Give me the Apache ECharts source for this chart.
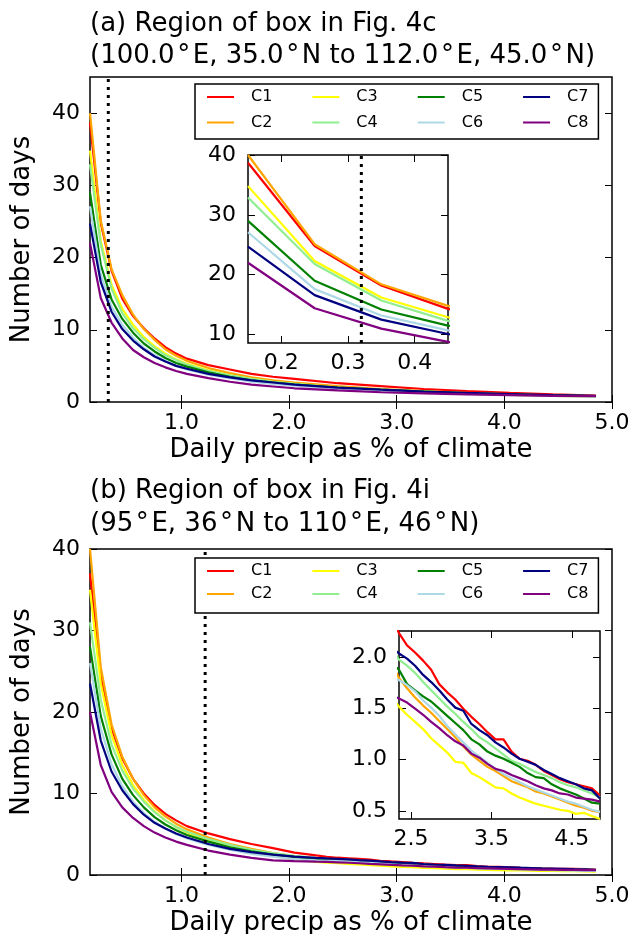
<!DOCTYPE html>
<html>
<head>
<meta charset="UTF-8">
<title>Number of days vs daily precip</title>
<script src="https://cdn.jsdelivr.net/npm/echarts@6/dist/echarts.min.js"></script>
<style>
body { margin: 0; background: #fff; }
.panel { width: 631px; height: 467px; }
</style>
</head>
<body>
<div id="chart-a" class="panel"></div>
<div id="chart-b" class="panel"></div>
<script>
var names = ['C1', 'C2', 'C3', 'C4', 'C5', 'C6', 'C7', 'C8'];
var colors = ['#ff0000', '#ffa500', '#ffff00', '#90ee90', '#008000', '#add8e6', '#000080', '#800080'];

// panel (a) data
var xA = [0.15, 0.25, 0.35, 0.45, 0.55, 0.65, 0.75, 0.85, 0.95, 1.05, 1.25, 1.45, 1.65, 1.85, 2.05, 2.45, 2.85, 3.25, 3.65, 4.05, 4.45, 4.85];
var a_C1 = [38.7, 24.8, 18.2, 14.3, 11.9, 10.2, 8.8, 7.6, 6.7, 6.0, 5.1, 4.5, 3.9, 3.5, 3.2, 2.6, 2.2, 1.8, 1.5, 1.25, 1.05, 0.9];
var a_C2 = [40.0, 25.1, 18.4, 14.8, 12.1, 10.1, 8.6, 7.3, 6.4, 5.7, 4.7, 4.0, 3.4, 3.0, 2.7, 2.2, 1.8, 1.5, 1.25, 1.05, 0.9, 0.8];
var a_C3 = [34.8, 22.3, 16.2, 12.9, 10.7, 9.0, 7.7, 6.7, 5.9, 5.3, 4.4, 3.7, 3.2, 2.8, 2.5, 2.0, 1.7, 1.4, 1.15, 1.0, 0.85, 0.75];
var a_C4 = [32.9, 21.8, 15.7, 12.3, 10.2, 8.7, 7.5, 6.5, 5.8, 5.2, 4.3, 3.7, 3.2, 2.8, 2.5, 2.0, 1.7, 1.45, 1.2, 1.05, 0.9, 0.8];
var a_C5 = [29.0, 19.0, 14.2, 11.5, 9.6, 8.1, 7.0, 6.1, 5.4, 4.9, 4.1, 3.5, 3.0, 2.7, 2.4, 2.0, 1.7, 1.45, 1.2, 1.05, 0.9, 0.8];
var a_C6 = [27.1, 17.6, 13.2, 10.7, 8.9, 7.5, 6.5, 5.7, 5.0, 4.5, 3.8, 3.3, 2.8, 2.5, 2.25, 1.85, 1.55, 1.35, 1.15, 1.0, 0.85, 0.75];
var a_C7 = [24.7, 16.6, 12.5, 10.1, 8.5, 7.3, 6.3, 5.6, 5.0, 4.6, 3.9, 3.4, 3.0, 2.7, 2.4, 2.0, 1.7, 1.45, 1.25, 1.1, 0.95, 0.85];
var a_C8 = [22.0, 14.4, 11.0, 8.8, 7.2, 6.2, 5.4, 4.8, 4.3, 3.9, 3.3, 2.8, 2.4, 2.15, 1.9, 1.6, 1.35, 1.2, 1.05, 0.95, 0.85, 0.8];
var cutA = 0.32;

// panel (b) data
var xB = [0.15, 0.25, 0.35, 0.45, 0.55, 0.65, 0.75, 0.85, 0.95, 1.05, 1.25, 1.45, 1.65, 1.85, 2.05, 2.25,
  2.35, 2.45, 2.55, 2.65, 2.75, 2.85, 2.95, 3.05, 3.15, 3.25, 3.35, 3.45, 3.55, 3.65, 3.75, 3.85, 3.95,
  4.05, 4.15, 4.25, 4.35, 4.45, 4.55, 4.65, 4.75, 4.85];
var b_C1 = [37.0, 24.5, 18.0, 14.3, 11.8, 10.0, 8.6, 7.5, 6.7, 6.0, 5.1, 4.4, 3.8, 3.3, 2.75, 2.4,
  2.24, 2.12, 2.05, 1.97, 1.88, 1.74, 1.66, 1.59, 1.50, 1.42, 1.35, 1.27, 1.20, 1.20, 1.08, 1.01, 0.99,
  0.95, 0.89, 0.85, 0.81, 0.78, 0.76, 0.74, 0.72, 0.65];
var b_C2 = [40.0, 25.5, 18.5, 14.5, 11.8, 9.8, 8.3, 7.2, 6.3, 5.6, 4.6, 3.8, 3.2, 2.7, 2.3, 1.95,
  1.80, 1.70, 1.61, 1.53, 1.46, 1.38, 1.30, 1.22, 1.13, 1.05, 0.99, 0.93, 0.89, 0.84, 0.79, 0.76, 0.73,
  0.69, 0.67, 0.64, 0.61, 0.58, 0.55, 0.53, 0.50, 0.49];
var b_C3 = [35.0, 23.5, 17.2, 13.5, 11.0, 9.2, 7.8, 6.7, 5.9, 5.2, 4.2, 3.4, 2.8, 2.35, 1.9, 1.62,
  1.52, 1.44, 1.37, 1.30, 1.21, 1.14, 1.07, 0.98, 0.97, 0.87, 0.83, 0.78, 0.73, 0.72, 0.67, 0.63, 0.60,
  0.57, 0.55, 0.53, 0.51, 0.50, 0.47, 0.48, 0.45, 0.42];
var b_C4 = [31.0, 21.5, 16.0, 12.8, 10.6, 9.0, 7.7, 6.7, 5.9, 5.3, 4.4, 3.7, 3.1, 2.7, 2.35, 2.1,
  1.98, 1.92, 1.85, 1.76, 1.68, 1.60, 1.52, 1.45, 1.37, 1.30, 1.22, 1.17, 1.11, 1.05, 0.99, 0.96, 0.92,
  0.88, 0.85, 0.82, 0.78, 0.75, 0.73, 0.70, 0.67, 0.63];
var b_C5 = [28.0, 19.5, 14.8, 11.8, 9.8, 8.3, 7.1, 6.2, 5.5, 4.9, 4.1, 3.4, 2.9, 2.5, 2.2, 1.95,
  1.88, 1.74, 1.68, 1.62, 1.57, 1.50, 1.43, 1.36, 1.29, 1.20, 1.15, 1.08, 1.04, 1.01, 0.97, 0.93, 0.87,
  0.83, 0.82, 0.76, 0.72, 0.69, 0.66, 0.62, 0.58, 0.57];
var b_C6 = [26.0, 18.0, 13.6, 10.9, 9.0, 7.6, 6.5, 5.7, 5.0, 4.5, 3.7, 3.1, 2.6, 2.25, 1.95, 1.8,
  1.78, 1.73, 1.67, 1.58, 1.51, 1.43, 1.33, 1.25, 1.17, 1.09, 1.03, 0.97, 0.91, 0.86, 0.82, 0.78, 0.74,
  0.71, 0.68, 0.65, 0.62, 0.59, 0.57, 0.54, 0.51, 0.49];
var b_C7 = [23.5, 16.5, 12.7, 10.4, 8.7, 7.4, 6.4, 5.7, 5.1, 4.6, 3.8, 3.2, 2.8, 2.5, 2.25, 2.1,
  2.04, 1.99, 1.92, 1.83, 1.76, 1.68, 1.59, 1.51, 1.48, 1.35, 1.29, 1.24, 1.17, 1.12, 1.06, 1.01, 0.98,
  0.95, 0.90, 0.86, 0.82, 0.79, 0.76, 0.72, 0.70, 0.62];
var b_C8 = [20.0, 13.5, 10.2, 8.3, 7.0, 6.0, 5.2, 4.6, 4.1, 3.7, 3.0, 2.5, 2.1, 1.8, 1.7, 1.63,
  1.60, 1.56, 1.50, 1.44, 1.37, 1.31, 1.24, 1.18, 1.14, 1.06, 1.02, 0.96, 0.91, 0.89, 0.85, 0.82, 0.79,
  0.75, 0.72, 0.70, 0.67, 0.66, 0.63, 0.62, 0.61, 0.59];
var cutB = 1.22;

var FONT = 'DejaVu Sans';
var DEG = '\u200a°\u200a';

function pairs(xs, ys) {
  return xs.map(function (x, i) { return [x, ys[i]]; });
}

// one axis; mirrored axes only carry ticks
function axis(grid, pos, min, max, ticks, withLabels, digits, gap) {
  return {
    type: 'value', gridIndex: grid, position: pos, min: min, max: max,
    splitLine: { show: false },
    axisLine: { show: false },
    axisTick: { show: true, inside: true, length: 7, customValues: ticks, lineStyle: { color: '#000', width: 1 } },
    axisLabel: {
      show: withLabels, customValues: ticks, color: '#000', fontSize: 22, fontFamily: FONT, margin: gap,
      formatter: function (v) { return v.toFixed(digits); }
    }
  };
}

function buildOption(p) {
  var series = [];
  for (var i = 0; i < names.length; i++) {
    var d = pairs(p.xs, p.ys[i]);
    series.push({ name: names[i], type: 'line', xAxisIndex: 0, yAxisIndex: 0, data: d, symbol: 'none',
      color: colors[i], lineStyle: { width: 2.2, color: colors[i] } });
    series.push({ name: names[i], type: 'line', xAxisIndex: 2, yAxisIndex: 2, data: d, symbol: 'none',
      color: colors[i], lineStyle: { width: 2.2, color: colors[i] } });
  }
  var dotStyle = { color: '#000', width: 3, type: [3, 5] };
  series.push({ type: 'line', xAxisIndex: 0, yAxisIndex: 0, symbol: 'none', z: 3,
    data: [[p.cut, p.main.y[0]], [p.cut, p.main.y[1]]], lineStyle: dotStyle });
  if (p.cut > p.inset.x[0] && p.cut < p.inset.x[1]) {
    series.push({ type: 'line', xAxisIndex: 2, yAxisIndex: 2, symbol: 'none', z: 3,
      data: [[p.cut, p.inset.y[0]], [p.cut, p.inset.y[1]]], lineStyle: dotStyle });
  }

  var nameStyle = { color: '#000', fontSize: 26, fontFamily: FONT };
  var xMain = axis(0, 'bottom', p.main.x[0], p.main.x[1], p.main.xt, true, 1, 10);
  xMain.name = 'Daily precip as % of climate';
  xMain.nameLocation = 'middle';
  xMain.nameGap = 35;
  xMain.nameMoveOverlap = false;
  xMain.nameTextStyle = nameStyle;
  var yMain = axis(0, 'left', p.main.y[0], p.main.y[1], p.main.yt, true, 0, 10);
  yMain.name = 'Number of days';
  yMain.nameLocation = 'middle';
  yMain.nameGap = 55;
  yMain.nameMoveOverlap = false;
  yMain.nameTextStyle = nameStyle;

  var titleStyle = { fontSize: 26, fontWeight: 'normal', fontFamily: FONT, color: '#000' };
  var legendText = { fontSize: 16, fontFamily: FONT, color: '#000', padding: [0, 0, 0, 12] };
  var lineIcon = 'path://M0,0H27V2H0Z';
  return {
    animation: false,
    title: [
      { text: p.title[0], left: 90, top: p.titleTop[0], padding: 0, textStyle: titleStyle },
      { text: p.title[1], left: 90, top: p.titleTop[1], padding: 0, textStyle: titleStyle }
    ],
    legend: [
      { data: ['C1', 'C3', 'C5', 'C7'], left: 195, top: p.legendTop[0], icon: lineIcon,
        itemWidth: 27, itemHeight: 14, itemGap: 40,
        padding: [5, 10, p.legendPadBottom, 12], backgroundColor: '#fff', borderColor: '#000', borderWidth: 1.5,
        selectedMode: false, textStyle: legendText },
      { data: ['C2', 'C4', 'C6', 'C8'], left: 195, top: p.legendTop[1], icon: lineIcon,
        itemWidth: 27, itemHeight: 14, itemGap: 40,
        padding: [0, 10, 0, 12], z: 5, selectedMode: false, textStyle: legendText }
    ],
    grid: [
      { left: p.main.box[0], top: p.main.box[1], width: p.main.box[2], height: p.main.box[3],
        show: true, borderColor: '#000', borderWidth: 1.5, outerBoundsMode: 'none' },
      { left: p.inset.box[0], top: p.inset.box[1], width: p.inset.box[2], height: p.inset.box[3],
        show: true, borderColor: '#000', borderWidth: 1.5, backgroundColor: '#fff', outerBoundsMode: 'none' }
    ],
    xAxis: [
      xMain,
      axis(0, 'top', p.main.x[0], p.main.x[1], p.main.xt, false, 1, 6),
      axis(1, 'bottom', p.inset.x[0], p.inset.x[1], p.inset.xt, true, 1, 9),
      axis(1, 'top', p.inset.x[0], p.inset.x[1], p.inset.xt, false, 1, 6)
    ],
    yAxis: [
      yMain,
      axis(0, 'right', p.main.y[0], p.main.y[1], p.main.yt, false, 0, 10),
      axis(1, 'left', p.inset.y[0], p.inset.y[1], p.inset.yt, true, p.inset.yDigits, 12),
      axis(1, 'right', p.inset.y[0], p.inset.y[1], p.inset.yt, false, p.inset.yDigits, 12)
    ],
    series: series
  };
}

var chartA = echarts.init(document.getElementById('chart-a'));
chartA.setOption(buildOption({
  title: ['(a) Region of box in Fig. 4c', '(100.0' + DEG + 'E, 35.0' + DEG + 'N to 112.0' + DEG + 'E, 45.0' + DEG + 'N)'],
  titleTop: [11, 43],
  legendTop: [84, 114.5],
  legendPadBottom: 34,
  xs: xA,
  ys: [a_C1, a_C2, a_C3, a_C4, a_C5, a_C6, a_C7, a_C8],
  cut: cutA,
  main: { box: [90, 77, 522, 325], x: [0.15, 5.0], y: [0, 45], xt: [1, 2, 3, 4, 5], yt: [0, 10, 20, 30, 40] },
  inset: { box: [248, 155, 200, 188], x: [0.15, 0.45], y: [8.6, 40], xt: [0.2, 0.3, 0.4], yt: [10, 20, 30, 40], yDigits: 0 }
}));

var chartB = echarts.init(document.getElementById('chart-b'));
chartB.setOption(buildOption({
  title: ['(b) Region of box in Fig. 4i', '(95' + DEG + 'E, 36' + DEG + 'N to 110' + DEG + 'E, 46' + DEG + 'N)'],
  titleTop: [11, 44],
  legendTop: [91, 119],
  legendPadBottom: 34,
  xs: xB,
  ys: [b_C1, b_C2, b_C3, b_C4, b_C5, b_C6, b_C7, b_C8],
  cut: cutB,
  main: { box: [90, 82, 522, 326], x: [0.15, 5.0], y: [0, 40], xt: [1, 2, 3, 4, 5], yt: [0, 10, 20, 30, 40] },
  inset: { box: [399, 164, 201, 188], x: [2.35, 4.85], y: [0.42, 2.26], xt: [2.5, 3.5, 4.5], yt: [0.5, 1.0, 1.5, 2.0], yDigits: 1 }
}));
</script>
</body>
</html>
